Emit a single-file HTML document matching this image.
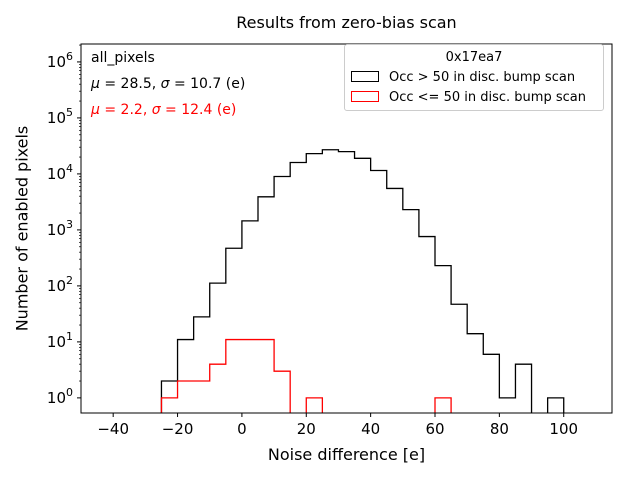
<!DOCTYPE html>
<html><head><meta charset="utf-8"><style>
body{margin:0;background:#fff;font-family:"Liberation Sans","DejaVu Sans",sans-serif}
svg text{font-family:"DejaVu Sans","Liberation Sans",sans-serif}
</style></head><body>
<svg id="c" width="640" height="480" xmlns="http://www.w3.org/2000/svg"></svg>
<script>
const binEdges=[-25,-20,-15,-10,-5,0,5,10,15,20,25,30,35,40,45,50,55,60,65,70,75,80,85,90,95,100];
const occHigh=[2,11,28,112,470,1450,3900,9000,16000,23000,27000,25000,19000,11500,5500,2300,760,230,47,14,6,1,4,0,1];
const occLow=[1,2,2,4,11,11,11,3,0,1,0,0,0,0,0,0,0,1,0,0,0,0,0,0,0];
const xTicks=[-40,-20,0,20,40,60,80,100];
const yTicks=[0,1,2,3,4,5,6];
const L=81,R=612,T=44,B=413;
const xmin=-50,xmax=115,lmin=-0.27,lmax=6.32;
const X=v=>L+(v-xmin)/(xmax-xmin)*(R-L);
const Y=v=>B-(Math.log10(v)-lmin)/(lmax-lmin)*(B-T);
const svg=document.getElementById('c');const NS='http://www.w3.org/2000/svg';
function mk(t,a,p){const e=document.createElementNS(NS,t);for(const k in a)e.setAttribute(k,a[k]);(p||svg).appendChild(e);return e;}
function step(vals,color,name){
 let d='';let prev=null;
 for(let i=0;i<vals.length;i++){
  const x0=X(binEdges[i]),x1=X(binEdges[i+1]);
  const y=vals[i]>0?Y(vals[i]):B+5;
  if(prev===null)d+=`M${x0},${B+5}`;
  d+=`L${x0},${y}L${x1},${y}`;prev=y;
 }
 d+=`L${X(binEdges[vals.length])},${B+5}`;
 const p=mk('path',{d:d,fill:'none',stroke:color,'stroke-width':1.3,'clip-path':'url(#clip)'});
 
 
}
const cp=mk('clipPath',{id:'clip'});mk('rect',{x:L,y:T,width:R-L,height:B-T},cp);
step(occHigh,'#000','series-occ-high');
step(occLow,'#f00','series-occ-low');
const fr=mk('rect',{x:L,y:T,width:R-L,height:B-T,fill:'none',stroke:'#000','stroke-width':1});


xTicks.forEach(v=>{const x=X(v);mk('line',{x1:x,x2:x,y1:B,y2:B+4,stroke:'#000'});
 const t=mk('text',{x:x,y:B+21,'text-anchor':'middle','font-size':15});t.textContent=v<0?'−'+(-v):v;
 
 });
yTicks.forEach(v=>{const y=Y(Math.pow(10,v));mk('line',{x1:L-4,x2:L,y1:y,y2:y,stroke:'#000'});
 const t=mk('text',{x:L-8,y:y+5,'text-anchor':'end','font-size':15});t.innerHTML='10<tspan dy="-7" font-size="11">'+v+'</tspan>';
 
 
 for(let k=2;k<10;k++){const v2=Math.pow(10,v)*k;if(Math.log10(v2)<lmax){const yy=Y(v2);mk('line',{x1:L-2,x2:L,y1:yy,y2:yy,stroke:'#000','stroke-width':0.7});}}
});
</script>
<div style="position:absolute;left:0;top:0;width:640px;height:480px;pointer-events:none;font-family:'DejaVu Sans','Liberation Sans',sans-serif">
<div style="position:absolute;left:81px;width:531px;top:13px;text-align:center;font-size:16px">Results from zero-bias scan</div>
<div style="position:absolute;left:81px;width:531px;top:445px;text-align:center;font-size:16px">Noise difference [e]</div>
<div style="position:absolute;left:-88px;top:219px;width:220px;text-align:center;font-size:16px;transform:rotate(-90deg)">Number of enabled pixels</div>
<div style="position:absolute;left:91px;top:50px;font-size:14px">all_pixels</div>
<div style="position:absolute;left:91px;top:76px;font-size:14px"><i>μ</i> = 28.5, <i>σ</i> = 10.7 (e)</div>
<div style="position:absolute;left:91px;top:102px;font-size:14px;color:#f00"><i>μ</i> = 2.2, <i>σ</i> = 12.4 (e)</div>
<div style="position:absolute;left:344px;top:44px;width:258px;height:65px;border:1px solid #ccc;border-radius:3px;background:#fff;font-size:13px">
<div style="text-align:center;margin-top:5px">0x17ea7</div>
<div style="position:absolute;left:6px;top:25px;white-space:nowrap"><span style="display:inline-block;width:26px;height:9px;border:1px solid #000;vertical-align:-1px;margin-right:10px"></span>Occ &gt; 50 in disc. bump scan</div>
<div style="position:absolute;left:6px;top:45px;white-space:nowrap"><span style="display:inline-block;width:26px;height:9px;border:1px solid #f00;vertical-align:-1px;margin-right:10px"></span>Occ &lt;= 50 in disc. bump scan</div>
</div>
</div>
</body></html>
